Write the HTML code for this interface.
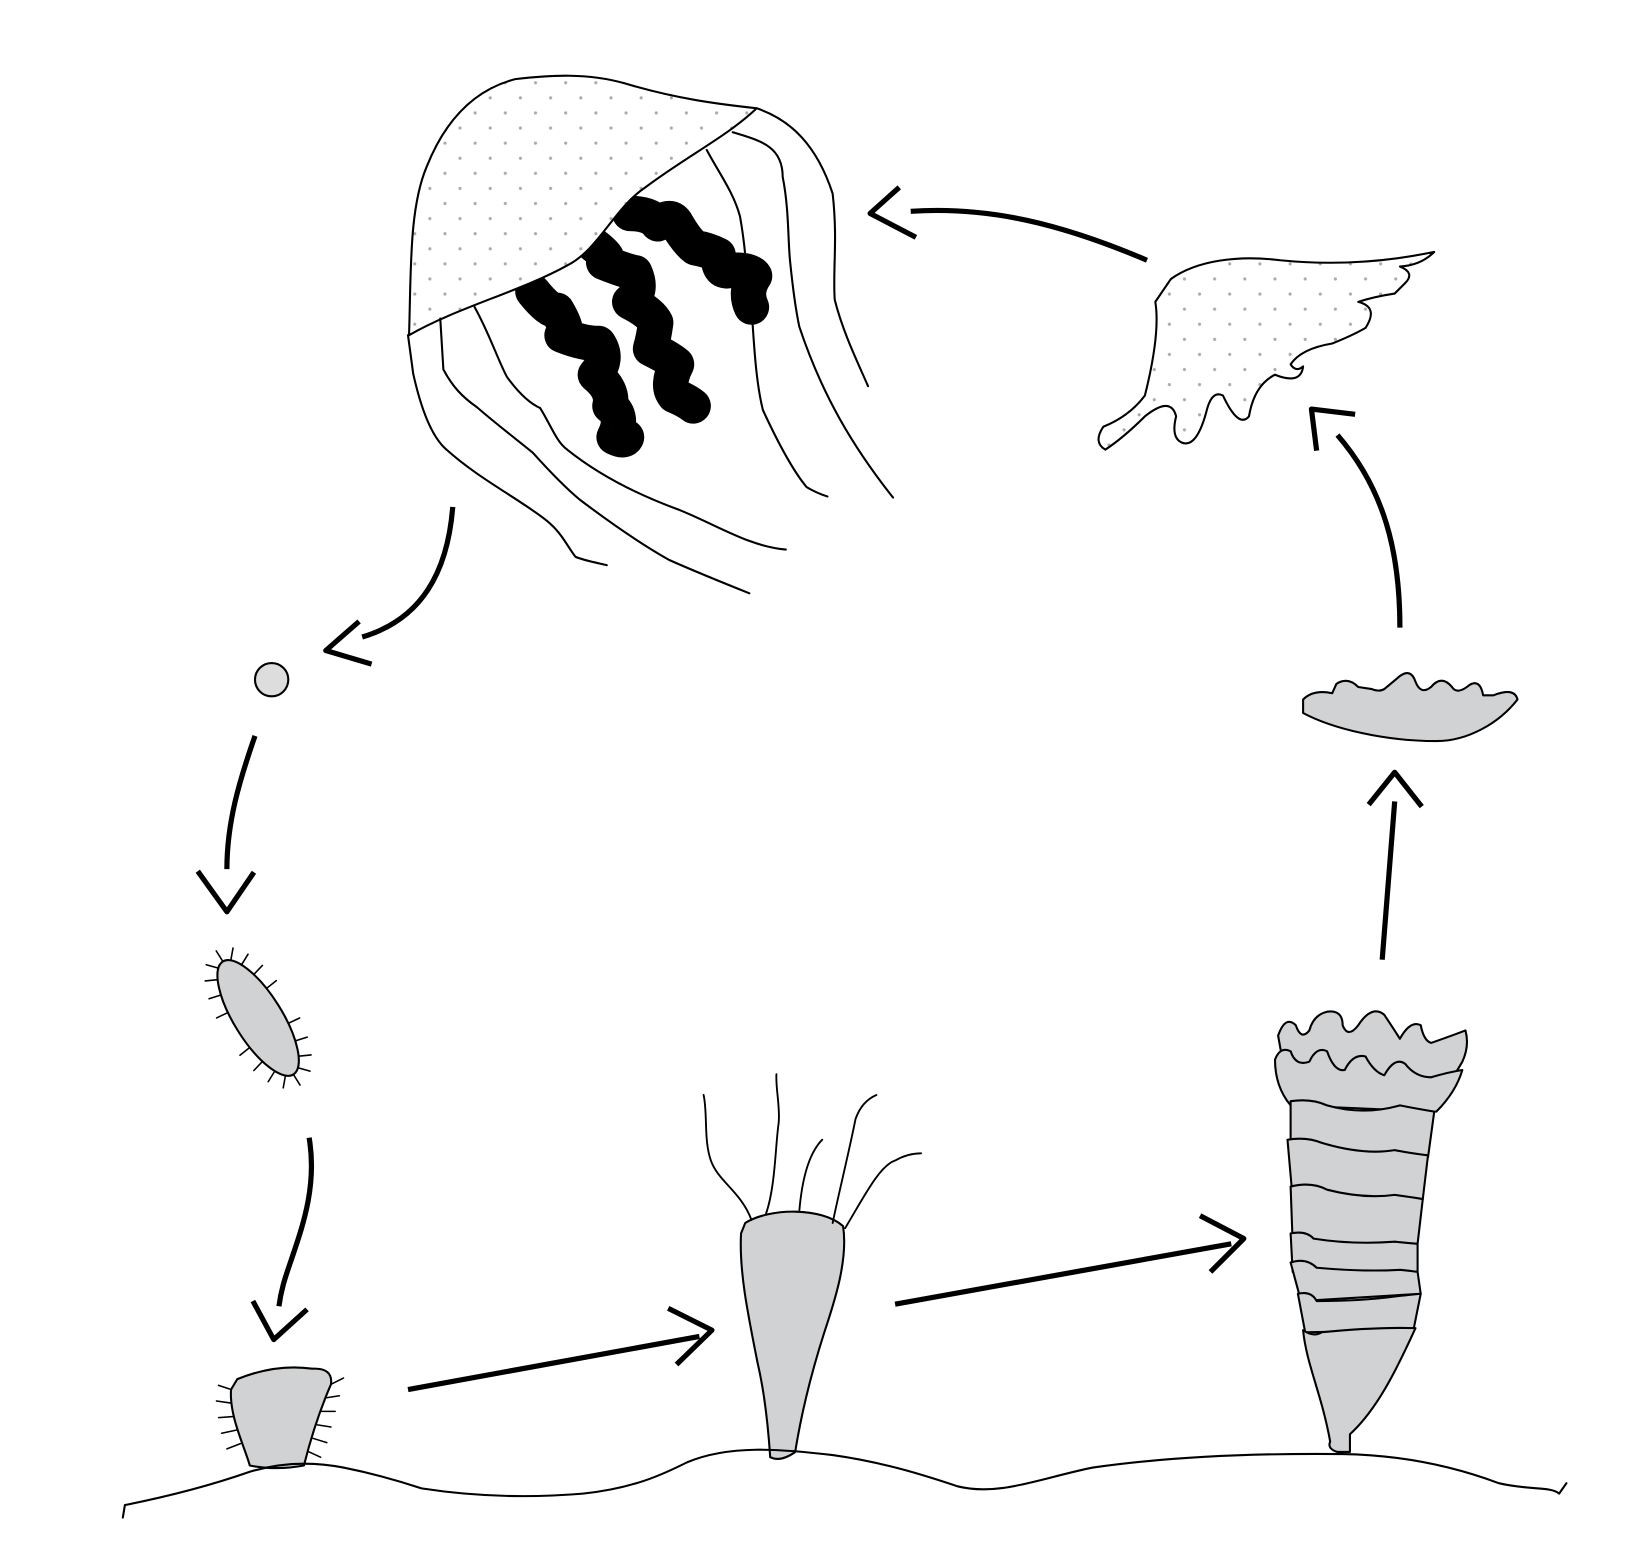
<!DOCTYPE html>
<html><head><meta charset="utf-8"><style>html,body{margin:0;padding:0;background:#fff}svg{display:block}</style></head>
<body>
<svg xmlns="http://www.w3.org/2000/svg" width="1632" height="1554" viewBox="0 0 1568 1493">
<defs>
<pattern id="dots" width="29" height="29" patternUnits="userSpaceOnUse">
<rect width="29" height="29" fill="#fff"/>
<circle cx="7" cy="7" r="1.5" fill="#aaa"/><circle cx="21.5" cy="21.5" r="1.5" fill="#aaa"/>
</pattern>
</defs>
<g fill="none" stroke="#000" stroke-width="2" stroke-linejoin="round" stroke-linecap="round">

<g>
<g stroke-width="34" stroke-linecap="round">
<path d="M512,280 Q528,300 535,298 Q548,320 540,322 Q560,330 575,330 Q585,345 572,360 Q590,375 586,390 Q600,400 590,420 Q600,425 602,420"/>
<path d="M570,235 Q590,250 580,252 Q600,260 610,262 Q618,280 605,290 Q625,300 630,310 Q628,325 625,335 Q645,345 650,350 Q640,370 648,380 Q660,385 666,390"/>
<path d="M605,205 Q625,205 632,215 Q645,205 650,215 Q660,232 668,238 Q680,240 690,245 Q690,262 700,260 Q720,258 725,265 Q715,280 722,295"/>
</g>
<path fill="url(#dots)" d="M393,322 C395,260 393,200 410,160 C430,110 460,85 495,76 C530,72 565,70 600,80 C650,95 690,100 727,104 C700,130 660,150 620,180 C590,200 575,240 545,255 C500,280 440,295 393,322 Z"/>
<path d="M727,104 C760,115 785,140 800,186 C805,230 800,260 802,288 C810,320 825,350 834,371"/>
<path d="M704,127 C730,135 752,140 752,170 C758,200 757,230 759,250 C762,280 765,300 768,314 C790,380 820,430 858,478"/>
<path d="M679,144 C690,165 705,185 711,208 C715,230 716,245 717,255 M723,310 C725,340 727,370 733,394 C745,420 760,450 775,468 C785,474 792,476 795,477"/>
<path d="M392,322 L397,359 C405,395 415,420 429,432 C460,460 500,480 525,500 C540,512 545,525 553,535 C560,538 570,540 583,543"/>
<path d="M423,306 L426,355 C435,372 445,382 458,391 C480,410 500,425 512,435 C530,455 545,470 557,480 C590,505 620,525 643,538 C670,550 700,562 720,570"/>
<path d="M456,295 C470,320 478,345 487,362 C500,380 510,388 519,392 C530,410 535,425 545,432 C580,460 620,478 653,490 C690,505 720,525 755,528"/>
</g>

<g stroke-width="5" stroke-linecap="butt">
<path d="M435,487 C430,550 405,595 348,612"/><path d="M345,597 L313,625 L357,638"/></g>
<circle cx="261" cy="653" r="16" fill="#ddd" stroke-width="2"/>
<g stroke-width="5" stroke-linecap="butt">
<path d="M245,707 C230,750 218,790 218,835"/><path d="M190,837 L218,876 L244,838"/></g>

<g id="larva">
<ellipse cx="248" cy="978" rx="23" ry="64" transform="rotate(-32 248 978)" fill="#d1d2d4"/>
</g>

<g stroke-width="5" stroke-linecap="butt">
<path d="M297,1093 C305,1140 290,1180 280,1210 C273,1230 270,1240 268,1255"/><path d="M243,1250 L263,1287 L295,1258"/></g>

<g>
<path fill="#d1d2d4" d="M228,1325 Q265,1310 300,1315 Q320,1314 318,1330 C305,1360 296,1392 292,1408 Q265,1413 240,1408 C235,1390 220,1360 222,1335 Z"/>
<path stroke-width="1.5" d="M222,1335 L210,1331 M222,1348 L208,1346 M224,1361 L210,1362 M227,1374 L213,1377 M231,1387 L218,1392 M318,1330 L330,1324 M313,1343 L326,1341 M309,1356 L322,1356 M305,1369 L318,1371 M301,1382 L314,1386 M297,1395 L308,1400"/>
</g>

<g stroke-width="5" stroke-linecap="butt">
<path d="M392,1335 L672,1284"/><path d="M642,1257 L684,1278 L650,1311"/></g>

<g>
<path fill="#d1d2d4" d="M716,1175 C740,1160 790,1160 810,1178 C815,1210 802,1250 792,1280 C776,1330 768,1370 764,1395 Q750,1405 740,1400 C738,1370 735,1340 728,1310 C718,1260 710,1220 712,1185 Z"/>
<path stroke-width="1.8" d="M722,1172 C712,1145 690,1135 683,1115 C676,1095 680,1070 676,1052 M736,1166 C745,1140 745,1100 748,1080 C750,1065 745,1045 746,1032 M768,1163 C770,1140 775,1110 790,1095 M800,1175 C805,1150 815,1110 822,1075 Q828,1058 842,1052 M812,1180 C830,1150 845,1120 860,1115 Q872,1108 885,1108"/>
</g>

<g stroke-width="5" stroke-linecap="butt">
<path d="M860,1253 L1183,1195"/><path d="M1153,1168 L1195,1190 L1163,1222"/></g>

<g fill="#d1d2d4">
<path d="M1228,995 Q1235,975 1245,985 Q1250,1000 1258,990 Q1262,975 1275,972 Q1290,970 1290,985 Q1295,998 1305,985 Q1318,965 1330,975 Q1340,990 1345,998 Q1355,980 1365,985 Q1368,1000 1375,1002 Q1395,995 1408,990 Q1412,1005 1405,1020 L1380,1062 L1240,1062 Z"/>
<path d="M1225,1018 Q1230,1005 1240,1010 Q1245,1025 1258,1020 Q1265,1005 1275,1010 Q1282,1030 1292,1028 Q1300,1012 1312,1015 Q1320,1030 1330,1033 Q1340,1015 1350,1022 Q1360,1035 1375,1035 Q1392,1030 1405,1028 C1400,1045 1390,1058 1380,1068 L1240,1062 C1230,1050 1225,1035 1225,1018 Z"/>
<path d="M1240,1058 Q1260,1055 1275,1062 Q1310,1072 1345,1062 Q1360,1065 1378,1068 L1372,1112 L1240,1112 Z"/>
<path d="M1237,1095 Q1255,1092 1270,1098 Q1310,1110 1340,1105 Q1355,1108 1372,1110 L1367,1152 L1242,1152 Z"/>
<path d="M1240,1140 Q1260,1135 1275,1143 Q1310,1152 1340,1148 Q1355,1150 1367,1152 L1362,1195 L1242,1195 Z"/>
<path d="M1240,1185 Q1255,1182 1262,1190 Q1300,1196 1340,1193 Q1352,1194 1362,1195 L1362,1222 L1242,1222 Z"/>
<path d="M1240,1213 Q1255,1208 1265,1218 Q1310,1222 1345,1220 Q1355,1221 1362,1222 L1365,1243 L1250,1250 Z"/>
<path d="M1247,1243 Q1260,1240 1265,1250 Q1310,1250 1345,1245 Q1356,1244 1365,1243 L1358,1278 L1254,1280 Z"/>
<path d="M1252,1278 Q1262,1285 1270,1280 Q1320,1275 1360,1276 C1340,1320 1322,1355 1297,1378 L1297,1395 L1285,1395 Q1275,1392 1278,1385 C1270,1340 1255,1310 1252,1278 Z"/>
</g>

<g stroke-width="5" stroke-linecap="butt">
<path d="M1328,922 L1340,770"/><path d="M1315,773 L1340,742 L1366,775"/></g>

<path fill="#d1d2d4" d="M1252,672 Q1262,662 1280,666 L1284,657 Q1295,650 1305,660 L1318,662 Q1325,665 1330,662 L1342,652 Q1355,640 1360,655 Q1365,668 1375,660 Q1385,648 1395,660 Q1400,668 1412,658 Q1422,652 1425,668 L1435,668 Q1455,660 1458,672 C1440,695 1410,712 1380,712 C1330,712 1280,700 1252,685 Z"/>

<g stroke-width="5" stroke-linecap="butt">
<path d="M1345,603 C1345,530 1330,470 1285,418"/><path d="M1265,433 L1260,393 L1302,398"/></g>

<path fill="url(#dots)" d="M1125,268 C1150,250 1190,245 1230,250 C1280,255 1330,252 1378,242 Q1365,255 1345,256 Q1360,262 1350,272 L1340,282 Q1320,285 1305,290 Q1325,295 1312,315 Q1300,322 1280,330 Q1250,335 1240,350 Q1245,358 1252,352 Q1250,370 1225,360 Q1205,370 1200,400 Q1190,412 1175,380 Q1165,375 1160,392 Q1150,432 1135,425 Q1125,420 1130,400 Q1125,380 1100,400 Q1080,420 1062,432 Q1050,425 1060,410 Q1085,400 1100,380 Q1115,320 1110,290 Z"/>

<g stroke-width="5" stroke-linecap="butt">
<path d="M1102,250 C1020,215 950,198 875,203"/><path d="M864,180 L836,205 L880,228"/></g>

<path d="M118,1458 L120,1446 C160,1438 200,1428 240,1414 C270,1405 300,1404 330,1410 C360,1416 390,1425 405,1430 C450,1437 500,1440 560,1435 C610,1430 640,1415 660,1405 C700,1388 750,1392 800,1398 C850,1405 890,1418 920,1428 C960,1438 1000,1420 1050,1410 C1120,1400 1200,1396 1290,1397 C1350,1398 1400,1410 1440,1425 C1470,1432 1490,1428 1498,1435 L1505,1425"/>
</g>
</svg>
<script>
const g=document.getElementById('larva');
const cx=248,cy=978,a=-32*Math.PI/180;
for(let i=0;i<20;i++){
  const t=(i/20)*2*Math.PI;
  if(Math.abs(Math.sin(t))<0.25)continue;
  const x0=23*Math.cos(t),y0=64*Math.sin(t);
  const nx=Math.cos(t)/23,ny=Math.sin(t)/64,nl=Math.hypot(nx,ny);
  const x1=x0+nx/nl*12,y1=y0+ny/nl*12;
  const rx=(x,y)=>[cx+x*Math.cos(a)-y*Math.sin(a),cy+x*Math.sin(a)+y*Math.cos(a)];
  const p=rx(x0,y0),q=rx(x1,y1);
  const l=document.createElementNS('http://www.w3.org/2000/svg','line');
  
  
  l.setAttribute('x1',p[0]);l.setAttribute('y1',p[1]);l.setAttribute('x2',q[0]);l.setAttribute('y2',q[1]);
  l.setAttribute('stroke-width','1.5');
  g.appendChild(l);
}
</script>
</body></html>
